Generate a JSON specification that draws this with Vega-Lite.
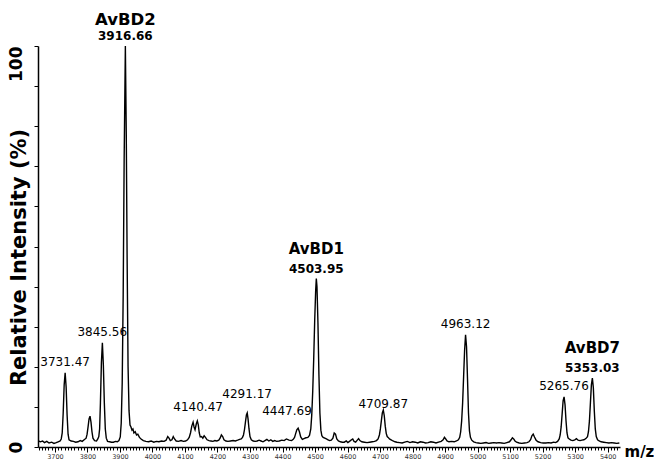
{
  "$schema": "https://vega.github.io/schema/vega-lite/v6.json",
  "width": 582,
  "height": 401,
  "autosize": {"type": "none"},
  "padding": {"left": 38, "top": 46, "right": 34, "bottom": 13},
  "background": "white",
  "config": {"view": {"stroke": null}, "font": "DejaVu Sans"},
  "datasets": {
    "spectrum": [
      {"mz":3648,"intensity":1.6},{"mz":3655,"intensity":1.3},{"mz":3662,"intensity":1.5},{"mz":3668,"intensity":1.1},{"mz":3675,"intensity":1.4},{"mz":3682,"intensity":1.0},{"mz":3690,"intensity":1.2},{"mz":3697,"intensity":0.9},{"mz":3704,"intensity":1.1},{"mz":3710,"intensity":1.3},{"mz":3716,"intensity":1.5},
      {"mz":3719.5,"intensity":2.0},{"mz":3722.5,"intensity":3.5},{"mz":3725.5,"intensity":8.5},{"mz":3728.5,"intensity":15.5},{"mz":3731.5,"intensity":18.5},{"mz":3734.5,"intensity":15},{"mz":3737.5,"intensity":8},{"mz":3740.5,"intensity":3.2},{"mz":3743.5,"intensity":1.8},
      {"mz":3750,"intensity":1.5},{"mz":3757,"intensity":1.4},{"mz":3764,"intensity":1.2},{"mz":3771,"intensity":1.3},{"mz":3778,"intensity":1.6},{"mz":3784,"intensity":1.4},{"mz":3790,"intensity":1.8},
      {"mz":3796,"intensity":2.2},{"mz":3799,"intensity":3.2},{"mz":3802,"intensity":5},{"mz":3805,"intensity":7},{"mz":3808,"intensity":7.7},{"mz":3811,"intensity":6.2},{"mz":3814,"intensity":3.8},{"mz":3817,"intensity":2.2},{"mz":3822,"intensity":1.6},{"mz":3828,"intensity":1.5},{"mz":3832,"intensity":2.0},
      {"mz":3835,"intensity":2.6},{"mz":3837.5,"intensity":4.5},{"mz":3840,"intensity":11},{"mz":3843,"intensity":21},{"mz":3846,"intensity":26},{"mz":3849,"intensity":20.5},{"mz":3852,"intensity":11},{"mz":3855,"intensity":4.5},{"mz":3858,"intensity":2.2},
      {"mz":3862,"intensity":1.4},{"mz":3868,"intensity":1.3},{"mz":3874,"intensity":1.2},{"mz":3880,"intensity":1.2},{"mz":3886,"intensity":1.4},{"mz":3892,"intensity":1.3},{"mz":3897,"intensity":1.6},
      {"mz":3901,"intensity":2.5},{"mz":3904,"intensity":6},{"mz":3907,"intensity":16},{"mz":3910,"intensity":38},{"mz":3913,"intensity":72},{"mz":3916.7,"intensity":100},{"mz":3919.5,"intensity":78},{"mz":3922,"intensity":48},{"mz":3925,"intensity":20},{"mz":3928,"intensity":9},
      {"mz":3931,"intensity":5.5},{"mz":3934,"intensity":5},{"mz":3937,"intensity":4.2},{"mz":3940,"intensity":4.5},{"mz":3943,"intensity":3.5},{"mz":3947,"intensity":3.8},{"mz":3951,"intensity":3},{"mz":3955,"intensity":3.2},{"mz":3960,"intensity":2.4},{"mz":3965,"intensity":2.0},
      {"mz":3972,"intensity":1.6},{"mz":3980,"intensity":1.4},{"mz":3988,"intensity":1.3},{"mz":3996,"intensity":1.5},{"mz":4004,"intensity":1.2},{"mz":4012,"intensity":1.4},{"mz":4020,"intensity":1.3},{"mz":4028,"intensity":1.5},{"mz":4036,"intensity":1.4},{"mz":4042,"intensity":1.7},
      {"mz":4047,"intensity":2.6},{"mz":4051,"intensity":2.2},{"mz":4055,"intensity":1.6},{"mz":4060,"intensity":1.8},{"mz":4064,"intensity":2.6},{"mz":4068,"intensity":2.0},{"mz":4073,"intensity":1.5},{"mz":4080,"intensity":1.4},{"mz":4088,"intensity":1.6},{"mz":4095,"intensity":1.4},
      {"mz":4102,"intensity":1.5},{"mz":4108,"intensity":1.8},{"mz":4113,"intensity":2.4},{"mz":4117,"intensity":3.5},{"mz":4121,"intensity":5.2},{"mz":4125,"intensity":6.2},{"mz":4128,"intensity":5},{"mz":4131,"intensity":4.3},{"mz":4135,"intensity":5.8},{"mz":4138,"intensity":6.5},
      {"mz":4141,"intensity":5.5},{"mz":4144,"intensity":3.5},{"mz":4147,"intensity":2.5},{"mz":4151,"intensity":2.6},{"mz":4155,"intensity":2.2},{"mz":4159,"intensity":2.8},{"mz":4163,"intensity":2.4},{"mz":4168,"intensity":1.8},{"mz":4174,"intensity":1.6},{"mz":4180,"intensity":1.5},
      {"mz":4186,"intensity":1.4},{"mz":4192,"intensity":1.6},{"mz":4198,"intensity":1.5},{"mz":4204,"intensity":1.7},{"mz":4208,"intensity":2.2},{"mz":4212,"intensity":3},{"mz":4216,"intensity":2.6},{"mz":4220,"intensity":1.8},{"mz":4226,"intensity":1.5},{"mz":4232,"intensity":1.4},
      {"mz":4240,"intensity":1.5},{"mz":4248,"intensity":1.6},{"mz":4255,"intensity":1.5},{"mz":4262,"intensity":1.7},{"mz":4268,"intensity":1.9},{"mz":4273,"intensity":2.0},{"mz":4277,"intensity":2.4},{"mz":4280,"intensity":3.0},{"mz":4283,"intensity":4.3},{"mz":4286,"intensity":6.2},
      {"mz":4289,"intensity":8.0},{"mz":4291.5,"intensity":8.5},{"mz":4294,"intensity":7},{"mz":4297,"intensity":4.5},{"mz":4300,"intensity":2.6},{"mz":4304,"intensity":1.8},{"mz":4310,"intensity":1.5},{"mz":4316,"intensity":1.4},{"mz":4322,"intensity":1.5},{"mz":4328,"intensity":1.7},
      {"mz":4334,"intensity":1.5},{"mz":4340,"intensity":1.3},{"mz":4346,"intensity":1.6},{"mz":4352,"intensity":1.9},{"mz":4358,"intensity":1.5},{"mz":4364,"intensity":1.8},{"mz":4370,"intensity":1.4},{"mz":4376,"intensity":1.6},{"mz":4382,"intensity":1.4},{"mz":4390,"intensity":1.5},
      {"mz":4398,"intensity":1.7},{"mz":4405,"intensity":1.6},{"mz":4412,"intensity":2.0},{"mz":4420,"intensity":1.7},{"mz":4428,"intensity":1.6},{"mz":4433,"intensity":1.9},{"mz":4437,"intensity":2.4},{"mz":4440,"intensity":3.2},{"mz":4444,"intensity":4.3},{"mz":4448,"intensity":4.7},
      {"mz":4452,"intensity":3.8},{"mz":4456,"intensity":2.5},{"mz":4461,"intensity":1.9},{"mz":4466,"intensity":2.1},{"mz":4472,"intensity":2.3},{"mz":4478,"intensity":2.4},{"mz":4483,"intensity":2.9},{"mz":4487,"intensity":4.5},{"mz":4490,"intensity":8},{"mz":4493,"intensity":14},
      {"mz":4496,"intensity":22},{"mz":4499,"intensity":31.5},{"mz":4502,"intensity":39},{"mz":4504,"intensity":42},{"mz":4506,"intensity":40},{"mz":4509,"intensity":31},{"mz":4512,"intensity":18},{"mz":4515,"intensity":8.5},{"mz":4518,"intensity":4.2},{"mz":4521,"intensity":2.8},
      {"mz":4525,"intensity":2.4},{"mz":4530,"intensity":2.2},{"mz":4535,"intensity":2.0},{"mz":4540,"intensity":1.8},{"mz":4545,"intensity":1.6},{"mz":4550,"intensity":1.7},{"mz":4555,"intensity":2.2},{"mz":4559,"intensity":3.5},{"mz":4563,"intensity":3.2},{"mz":4567,"intensity":2.0},
      {"mz":4572,"intensity":1.5},{"mz":4578,"intensity":1.3},{"mz":4584,"intensity":1.2},{"mz":4590,"intensity":1.2},{"mz":4596,"intensity":1.5},{"mz":4601,"intensity":1.1},{"mz":4606,"intensity":1.4},{"mz":4612,"intensity":1.8},{"mz":4616,"intensity":2.0},{"mz":4620,"intensity":1.4},
      {"mz":4625,"intensity":1.2},{"mz":4630,"intensity":1.7},{"mz":4634,"intensity":2.1},{"mz":4638,"intensity":1.6},{"mz":4644,"intensity":1.3},{"mz":4652,"intensity":1.2},{"mz":4660,"intensity":1.1},{"mz":4668,"intensity":1.2},{"mz":4676,"intensity":1.3},{"mz":4683,"intensity":1.4},
      {"mz":4689,"intensity":1.6},{"mz":4694,"intensity":2.0},{"mz":4698,"intensity":3},{"mz":4701,"intensity":4.5},{"mz":4704,"intensity":6.5},{"mz":4707,"intensity":8.5},{"mz":4710,"intensity":9.2},{"mz":4713,"intensity":7.8},{"mz":4716,"intensity":5.2},{"mz":4719,"intensity":3.4},
      {"mz":4722,"intensity":2.6},{"mz":4725,"intensity":2.4},{"mz":4729,"intensity":2.0},{"mz":4734,"intensity":1.8},{"mz":4740,"intensity":1.5},{"mz":4746,"intensity":1.3},{"mz":4752,"intensity":1.2},{"mz":4760,"intensity":1.1},{"mz":4768,"intensity":1.0},{"mz":4776,"intensity":1.2},
      {"mz":4784,"intensity":1.4},{"mz":4792,"intensity":1.1},{"mz":4800,"intensity":1.3},{"mz":4808,"intensity":1.2},{"mz":4816,"intensity":1.0},{"mz":4824,"intensity":1.3},{"mz":4832,"intensity":1.2},{"mz":4840,"intensity":1.0},{"mz":4848,"intensity":1.1},{"mz":4856,"intensity":1.3},
      {"mz":4864,"intensity":1.2},{"mz":4872,"intensity":1.0},{"mz":4880,"intensity":1.2},{"mz":4888,"intensity":1.4},{"mz":4894,"intensity":1.8},{"mz":4898,"intensity":2.4},{"mz":4902,"intensity":2.0},{"mz":4906,"intensity":1.5},{"mz":4912,"intensity":1.3},{"mz":4920,"intensity":1.4},
      {"mz":4928,"intensity":1.3},{"mz":4935,"intensity":1.5},{"mz":4941,"intensity":1.8},{"mz":4945,"intensity":2.4},{"mz":4948,"intensity":3.8},{"mz":4951,"intensity":6.5},{"mz":4954,"intensity":11},{"mz":4957,"intensity":17.5},{"mz":4960,"intensity":24},{"mz":4963,"intensity":28},
      {"mz":4966,"intensity":25},{"mz":4969,"intensity":17},{"mz":4972,"intensity":8.5},{"mz":4975,"intensity":4},{"mz":4978,"intensity":2.4},{"mz":4982,"intensity":1.7},{"mz":4988,"intensity":1.3},{"mz":4995,"intensity":1.1},{"mz":5002,"intensity":1.0},{"mz":5010,"intensity":0.9},
      {"mz":5018,"intensity":1.0},{"mz":5026,"intensity":1.1},{"mz":5034,"intensity":0.9},{"mz":5042,"intensity":1.0},{"mz":5050,"intensity":1.1},{"mz":5058,"intensity":1.0},{"mz":5066,"intensity":1.1},{"mz":5074,"intensity":1.0},{"mz":5082,"intensity":0.9},{"mz":5090,"intensity":1.1},
      {"mz":5098,"intensity":1.3},{"mz":5103,"intensity":1.8},{"mz":5107,"intensity":2.3},{"mz":5111,"intensity":2.0},{"mz":5115,"intensity":1.5},{"mz":5120,"intensity":1.2},{"mz":5128,"intensity":1.0},{"mz":5136,"intensity":0.9},{"mz":5144,"intensity":1.0},{"mz":5152,"intensity":1.1},
      {"mz":5158,"intensity":1.3},{"mz":5163,"intensity":1.8},{"mz":5167,"intensity":2.8},{"mz":5171,"intensity":3.2},{"mz":5175,"intensity":2.5},{"mz":5180,"intensity":1.7},{"mz":5186,"intensity":1.3},{"mz":5194,"intensity":1.1},{"mz":5202,"intensity":1.0},{"mz":5210,"intensity":1.0},
      {"mz":5218,"intensity":1.1},{"mz":5226,"intensity":1.0},{"mz":5234,"intensity":1.2},{"mz":5240,"intensity":1.1},{"mz":5246,"intensity":1.4},{"mz":5251,"intensity":2},{"mz":5254,"intensity":3},{"mz":5257,"intensity":5},{"mz":5260,"intensity":8.2},{"mz":5263,"intensity":11.5},
      {"mz":5266,"intensity":12.5},{"mz":5269,"intensity":10.5},{"mz":5272,"intensity":6.5},{"mz":5275,"intensity":3.5},{"mz":5278,"intensity":2.3},{"mz":5282,"intensity":2.0},{"mz":5287,"intensity":1.7},{"mz":5293,"intensity":1.6},{"mz":5299,"intensity":1.8},{"mz":5304,"intensity":2.1},
      {"mz":5309,"intensity":1.7},{"mz":5315,"intensity":1.6},{"mz":5321,"intensity":1.7},{"mz":5327,"intensity":1.8},{"mz":5333,"intensity":2.1},{"mz":5338,"intensity":2.6},{"mz":5341,"intensity":3.8},{"mz":5344,"intensity":6.5},{"mz":5347,"intensity":11},{"mz":5350,"intensity":15.5},
      {"mz":5353,"intensity":17.2},{"mz":5356,"intensity":14.8},{"mz":5359,"intensity":9},{"mz":5362,"intensity":4.5},{"mz":5365,"intensity":2.6},{"mz":5369,"intensity":1.8},{"mz":5374,"intensity":1.5},{"mz":5380,"intensity":1.3},{"mz":5388,"intensity":1.2},{"mz":5396,"intensity":1.1},
      {"mz":5404,"intensity":1.0},{"mz":5412,"intensity":1.1},{"mz":5420,"intensity":1.0},{"mz":5428,"intensity":0.9},{"mz":5436,"intensity":1.0}
    ],
    "peaks": [
      {"mz":3731.47,"intensity":18.5,"label":"3731.47","name":""},
      {"mz":3845.56,"intensity":26,"label":"3845.56","name":""},
      {"mz":3916.66,"intensity":100,"label":"3916.66","name":"AvBD2"},
      {"mz":4140.47,"intensity":6.5,"label":"4140.47","name":""},
      {"mz":4291.17,"intensity":8.5,"label":"4291.17","name":""},
      {"mz":4447.69,"intensity":4.7,"label":"4447.69","name":""},
      {"mz":4503.95,"intensity":42,"label":"4503.95","name":"AvBD1"},
      {"mz":4709.87,"intensity":9.2,"label":"4709.87","name":""},
      {"mz":4963.12,"intensity":28,"label":"4963.12","name":""},
      {"mz":5265.76,"intensity":12.5,"label":"5265.76","name":""},
      {"mz":5353.03,"intensity":17.2,"label":"5353.03","name":"AvBD7"}
    ]
  },
  "layer": [
    {
      "data": {"name": "spectrum"},
      "mark": {"type": "line", "color": "black", "strokeWidth": 1.4, "clip": true},
      "encoding": {
        "x": {
          "field": "mz", "type": "quantitative",
          "scale": {"domain": [3648, 5438], "nice": false, "zero": false},
          "axis": {
            "tickCount": 180, "format": "d",
            "labelExpr": "datum.value % 100 === 0 ? datum.label : ''",
            "labelFontSize": 6.5, "labelColor": "#333", "labelPadding": 1,
            "labelOverlap": false, "labelFlush": false, "labelBound": false,
            "tickSize": {"condition": {"test": "datum.value % 100 === 0", "value": 5}, "value": 3},
            "tickColor": "black", "tickWidth": 1,
            "domainColor": "black", "domainWidth": 1.5, "grid": false,
            "title": "m/z", "titleX": 586, "titleY": 4, "titleAlign": "left", "titleBaseline": "middle",
            "titleFontSize": 15, "titleFontWeight": "bold", "titleColor": "black"
          }
        },
        "y": {
          "field": "intensity", "type": "quantitative",
          "scale": {"domain": [0, 100], "nice": false},
          "axis": {
            "values": [0, 10, 20, 30, 40, 50, 60, 70, 80, 90, 100],
            "labelExpr": "datum.value === 0 || datum.value === 100 ? datum.label : ''",
            "labelAngle": -90,
            "labelAlign": {"condition": {"test": "datum.value === 100", "value": "right"}, "value": "center"},
            "labelBaseline": "middle",
            "labelFontSize": 17, "labelFontWeight": "bold", "labelColor": "black", "labelPadding": 18,
            "labelOverlap": false, "labelFlush": false, "labelBound": false,
            "tickSize": 4, "tickColor": "black", "tickWidth": 1,
            "domainColor": "black", "domainWidth": 1.5, "grid": false,
            "title": "Relative Intensity (%)", "titleFontSize": 21, "titleFontWeight": "bold", "titleColor": "black",
            "titleX": -19, "titleY": 211, "titleAngle": -90, "titleAlign": "center", "titleBaseline": "middle"
          }
        }
      }
    },
    {
      "data": {"name": "peaks"},
      "transform": [{"filter": "datum.name === ''"}],
      "mark": {
        "type": "text", "fontSize": 12, "color": "black", "baseline": "alphabetic", "align": "center",
        "dy": {"expr": "datum.label === '4291.17' ? -15 : datum.label === '4447.69' ? -13 : datum.label === '4140.47' ? -10 : datum.label === '4709.87' ? -2 : -7"},
        "dx": {"expr": "datum.label === '4447.69' ? -11 : 0"}
      },
      "encoding": {
        "x": {"field": "mz", "type": "quantitative"},
        "y": {"field": "intensity", "type": "quantitative"},
        "text": {"field": "label"}
      }
    },
    {
      "data": {"name": "peaks"},
      "transform": [{"filter": "datum.name !== ''"}],
      "mark": {"type": "text", "fontSize": 12, "fontWeight": "bold", "color": "black", "baseline": "alphabetic", "align": "center", "dy": -6},
      "encoding": {
        "x": {"field": "mz", "type": "quantitative"},
        "y": {"field": "intensity", "type": "quantitative"},
        "text": {"field": "label"}
      }
    },
    {
      "data": {"name": "peaks"},
      "transform": [{"filter": "datum.name !== ''"}],
      "mark": {
        "type": "text", "fontWeight": "bold", "color": "black", "baseline": "alphabetic", "align": "center",
        "fontSize": {"expr": "datum.name === 'AvBD2' ? 16.5 : 15"},
        "dy": {"expr": "datum.name === 'AvBD2' ? -21 : -25"}
      },
      "encoding": {
        "x": {"field": "mz", "type": "quantitative"},
        "y": {"field": "intensity", "type": "quantitative"},
        "text": {"field": "name"}
      }
    }
  ]
}
